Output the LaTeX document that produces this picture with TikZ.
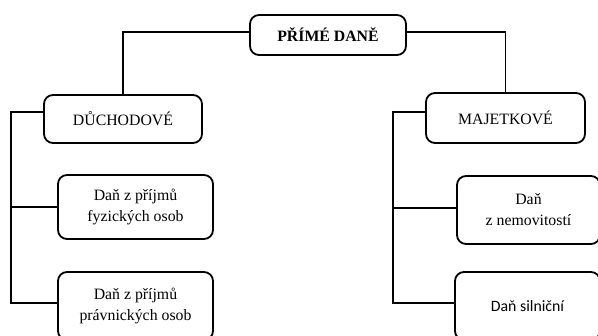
\documentclass[tikz,border=0pt]{standalone}
\usepackage{fontspec}
\setmainfont{Liberation Serif}
\newfontfamily\carlito{Carlito}
\begin{document}
\begin{tikzpicture}[x=1pt,y=1pt,
  box/.style={draw=black, line width=1.8pt, rounded corners=9pt, align=center,
    inner sep=0pt, font=\fontsize{15.8}{21}\selectfont, fill=white},
  link/.style={draw=black, line width=1.8pt}]
\useasboundingbox (0,0) rectangle (598,-336);
\clip (0,0) rectangle (598,-336);
\node[box, minimum width=156pt, minimum height=40pt] (top) at (328,-35) {\textbf{PŘÍMÉ DANĚ}};
\node[box, minimum width=158pt, minimum height=48pt] (duch) at (123,-119) {DŮCHODOVÉ};
\node[box, minimum width=159pt, minimum height=50pt] (maj) at (505.5,-118) {MAJETKOVÉ};
\node[box, minimum width=155pt, minimum height=64pt] (fyz) at (135.5,-207) {Daň z příjmů\\fyzických osob};
\node[box, minimum width=155pt, minimum height=68pt] (prav) at (135.5,-306) {Daň z příjmů\\právnických osob};
\node[box, minimum width=143pt, minimum height=68pt] (nem) at (528.5,-210) {Daň\\z nemovitostí};
\node[box, minimum width=145pt, minimum height=68pt] (siln) at (527.5,-306) {\carlito Daň silniční};
\draw[link] ([yshift=3pt]top.west) -| (duch.north);
\draw[link] ([yshift=3pt]top.east) -| (maj.north);
\draw[link] ([yshift=7pt]duch.west) -- ++(-32,0) coordinate (la) |- (fyz.west);
\draw[link] (la) |- ([yshift=3pt]prav.west);
\draw[link] ([yshift=6pt]maj.west) -- ++(-32,0) coordinate (ra) |- ([yshift=2pt]nem.west);
\draw[link] (ra) |- ([yshift=3pt]siln.west);
\end{tikzpicture}
\end{document}
